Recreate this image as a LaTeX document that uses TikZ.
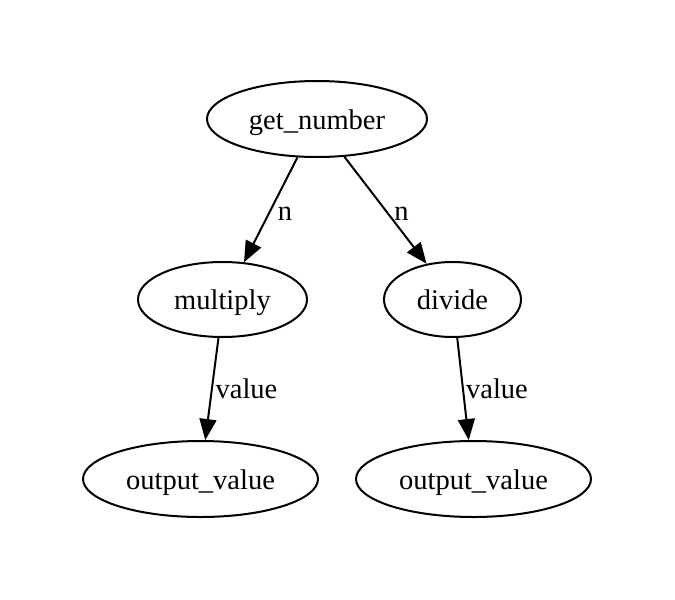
\documentclass[tikz,border=0pt]{standalone}
\usepackage{fontspec}
\setmainfont{Liberation Serif}
\usetikzlibrary{shapes.geometric,arrows.meta}
\begin{document}
\begin{tikzpicture}[x=1pt,y=-1pt,
  every node/.style={font=\fontsize{28.5}{32}\selectfont},
  gnode/.style={draw,ellipse,line width=2pt,inner sep=0pt,text height=21pt,text depth=1pt},
  edge/.style={line width=2pt,-{Triangle[length=21pt,width=17pt]}},
  elabel/.style={anchor=base,inner sep=0pt}]
\useasboundingbox (0,0) rectangle (675,600);
\node[gnode,minimum width=220pt,minimum height=76pt] (gn) at (317,119) {get\_number};
\node[gnode,minimum width=169pt,minimum height=75pt] (mul) at (222.5,299.5) {multiply};
\node[gnode,minimum width=137pt,minimum height=75pt] (div) at (452.5,299.5) {divide};
\node[gnode,minimum width=235pt,minimum height=76pt] (out1) at (200.5,479) {output\_value};
\node[gnode,minimum width=235pt,minimum height=76pt] (out2) at (473.5,479) {output\_value};
\draw[edge] (gn.-117.2) -- (mul.60.7);
\draw[edge] (gn.-54.3) -- (div.126.5);
\draw[edge] (mul.-96.7) -- (out1.83.2);
\draw[edge] (div.-83.3) -- (out2.97.5);
\node[elabel] (l1) at (285,220) {n};
\node[elabel] (l2) at (401.5,220) {n};
\node[elabel] (l3) at (246.5,398) {value};
\node[elabel] (l4) at (497,398) {value};
\end{tikzpicture}
\end{document}
